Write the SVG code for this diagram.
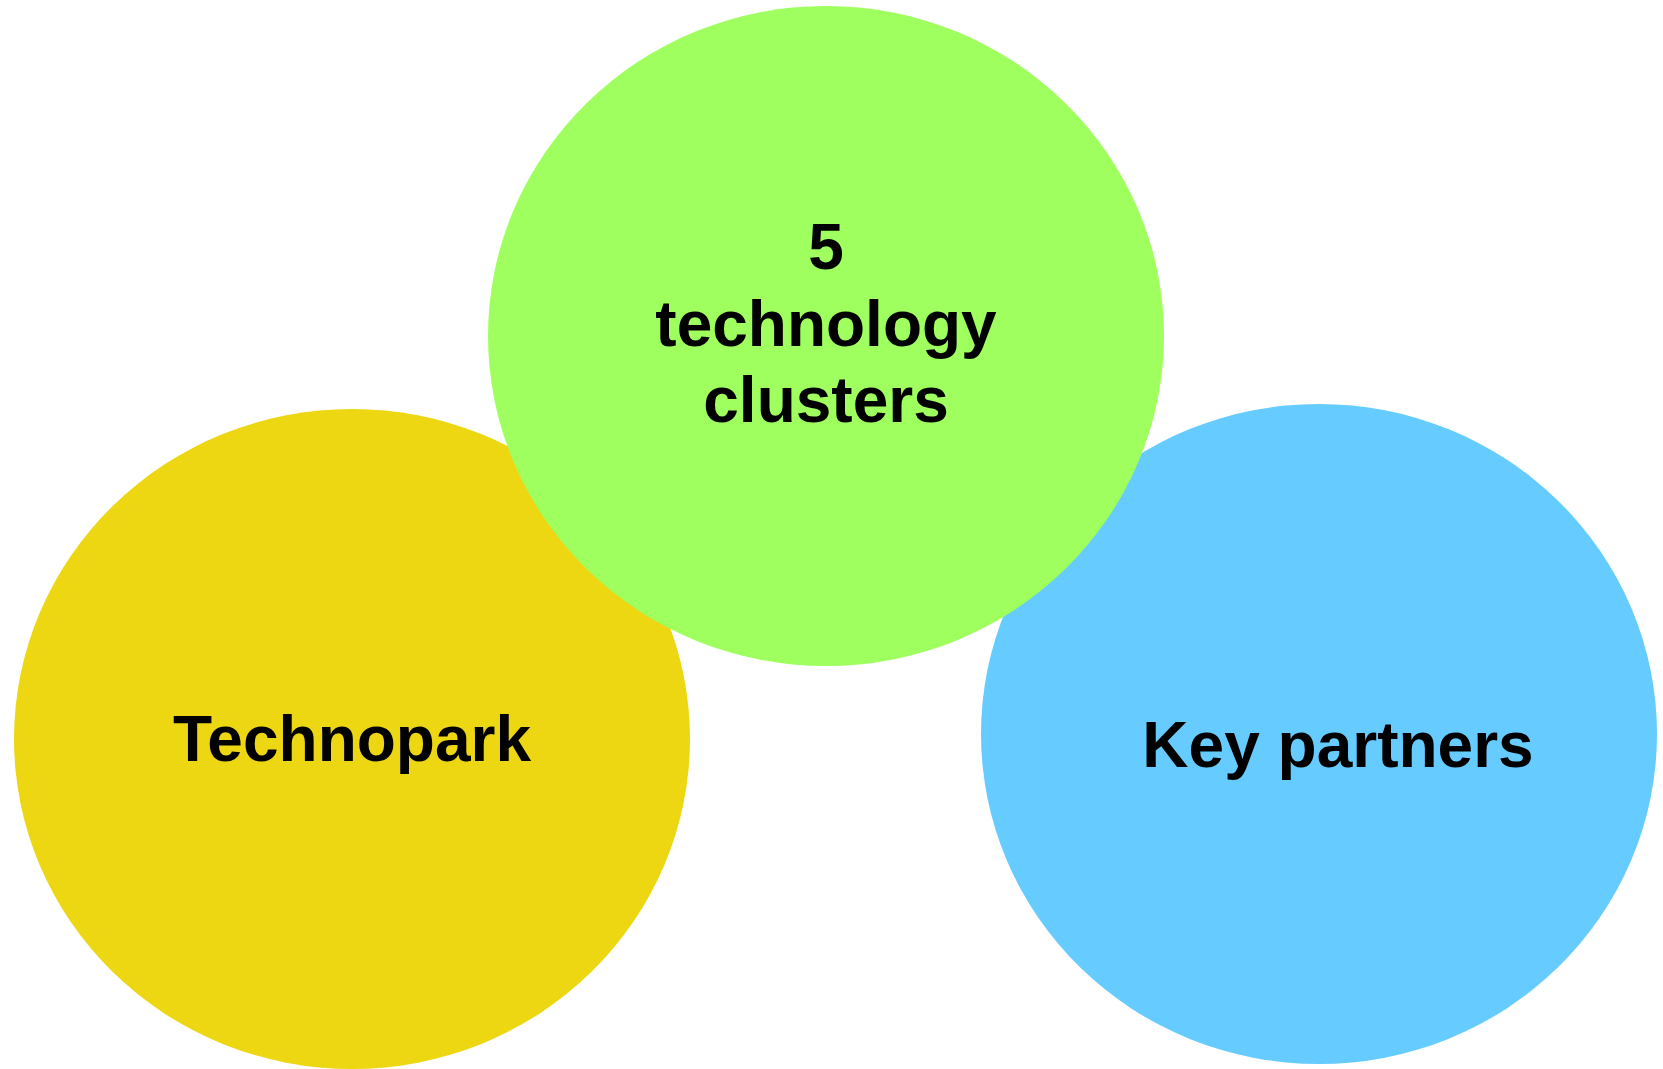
<svg xmlns="http://www.w3.org/2000/svg" width="1663" height="1069" viewBox="0 0 1663 1069">
<style>
.lbl{font-family:"Liberation Sans",Arial,Helvetica,sans-serif;font-weight:bold;font-size:64px;fill:#000;text-anchor:middle}
</style>
<rect width="1663" height="1069" fill="#fff"/>
<g id="connectors"/>
<g id="technopark">
<ellipse cx="352" cy="739" rx="338" ry="330" fill="#EDD712"/>
<text class="lbl" x="352" y="761">Technopark</text>
</g>
<g id="key-partners">
<ellipse cx="1319" cy="734" rx="338" ry="330" fill="#66CCFF"/>
<text class="lbl" x="1338" y="767">Key partners</text>
</g>
<g id="clusters">
<ellipse cx="826" cy="336" rx="338" ry="330" fill="#9EFF5E"/>
<text class="lbl" x="826" y="269">5</text>
<text class="lbl" x="826" y="346">technology</text>
<text class="lbl" x="826" y="422">clusters</text>
</g>
</svg>
